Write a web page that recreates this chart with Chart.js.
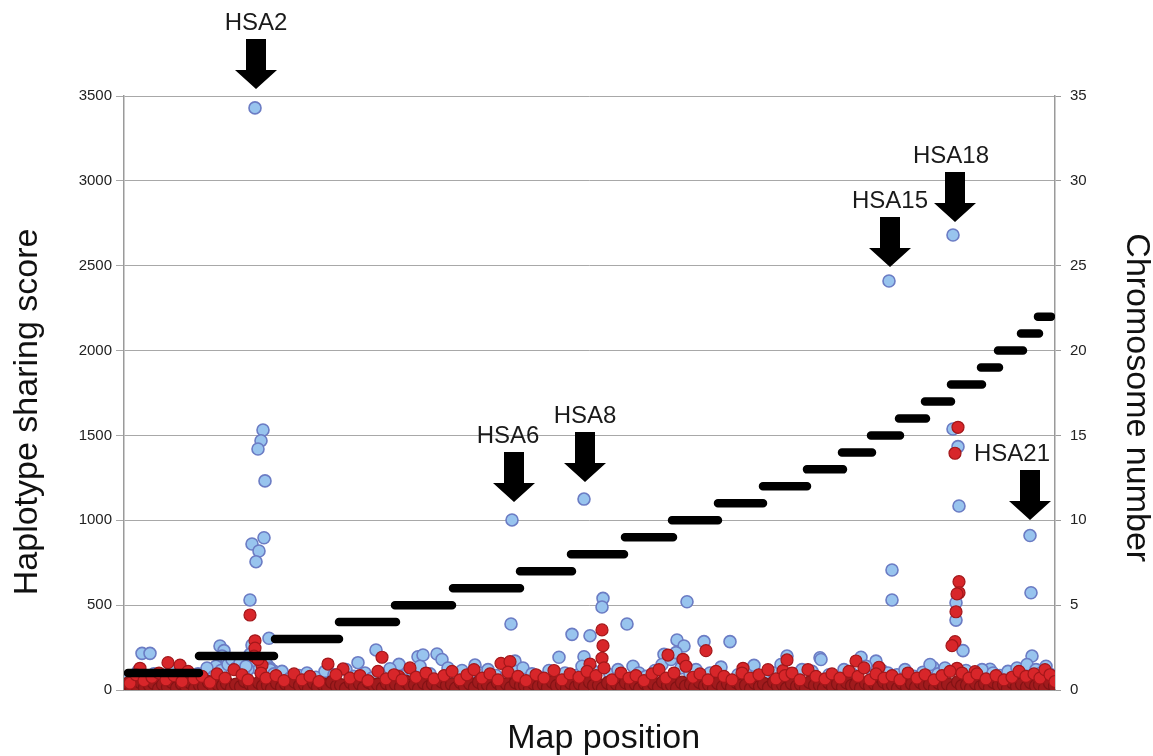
<!DOCTYPE html>
<html>
<head>
<meta charset="utf-8">
<script src="https://cdn.jsdelivr.net/npm/chart.js@4.4.0/dist/chart.umd.min.js"></script>
<style>
  html, body { margin: 0; padding: 0; background: #fff; }
  #wrap { width: 1153px; height: 756px; }
</style>
</head>
<body>
<div id="wrap"><canvas id="scoreChart"></canvas></div>
<script>
// chromosome blocks along the map (x = map position, arbitrary units)
var chrNum   = [1, 2, 3, 4, 5, 6, 7, 8, 9, 10, 11, 12, 13, 14, 15, 16, 17, 18, 19, 20, 21, 22];
var chrStart = [4, 75, 151, 215, 271, 329, 396, 447, 501, 548, 594, 639, 683, 718, 747, 775, 801, 827, 857, 874, 897, 914];
var chrEnd   = [75, 150, 215, 272, 328, 396, 448, 500, 549, 594, 639, 683, 719, 748, 776, 802, 827, 858, 875, 899, 915, 927];

// peaks that are labelled with an arrow
var peakLabels = ["HSA2", "HSA6", "HSA8", "HSA15", "HSA18", "HSA21"];
var peakX      = [132, 390, 461, 766, 831, 906];
var peakScore  = [3541, 1108, 1226, 2493, 2758, 1002];

var leftTicks  = [0, 500, 1000, 1500, 2000, 2500, 3000, 3500];
var rightTicks = [0, 5, 10, 15, 20, 25, 30, 35];

// [map position, haplotype sharing score]
var bluePoints = [
  [131,3430],[139,1532],[137,1469],[134,1420],[141,1232],[140,897],[128,860],[135,819],[132,756],[126,530],
  [145,305],[128,265],[126,210],[388,1002],[387,389],[460,1125],[479,540],[478,489],[448,328],[466,320],
  [503,389],[435,193],[460,196],[563,520],[765,2410],[768,707],[768,530],[829,2681],[829,1538],[834,1434],
  [835,1084],[832,514],[832,412],[839,232],[906,910],[907,573],[18,216],[26,216],[96,259],[100,232],
  [234,161],[252,236],[275,151],[294,196],[351,147],[299,206],[313,212],[606,285],[553,295],[560,259],
  [580,285],[663,200],[737,193],[809,134],[866,122],[908,200],[391,170],[696,190],[752,170],[540,210],
  [140,180],[143,150],[146,130],[150,110],[136,160],[133,130],[127,170],[124,120],[98,200],[103,175],[92,140],
  [3,60],[9,85],[14,110],[22,75],[30,95],[38,70],[47,120],[52,88],[60,105],[66,72],[74,95],[83,130],
  [90,80],[97,115],[104,150],[108,180],[112,130],[116,160],[119,100],[122,140],[146,120],[150,95],
  [158,110],[166,70],[175,85],[183,100],[192,75],[201,110],[210,90],[222,120],[230,80],[241,100],
  [248,70],[259,95],[266,125],[281,85],[288,110],[296,140],[306,95],[318,180],[324,130],[330,90],
  [338,115],[346,75],[356,100],[364,120],[372,85],[381,70],[392,110],[399,130],[408,95],[416,75],
  [425,115],[441,100],[452,85],[458,140],[470,110],[486,90],[494,120],[509,140],[515,100],[522,80],
  [531,115],[538,150],[547,180],[552,220],[557,130],[566,95],[572,120],[586,100],[597,135],[614,90],
  [622,110],[630,145],[641,85],[650,100],[657,150],[670,95],[678,120],[688,110],[697,180],[705,90],
  [712,75],[720,120],[728,95],[742,140],[749,85],[758,115],[764,100],[773,90],[781,120],[790,80],
  [799,105],[806,150],[814,95],[821,130],[842,115],[850,90],[858,120],[869,100],[876,85],[884,110],
  [893,130],[898,95],[903,150],[912,120],[917,100],[922,140],[927,90],[930,70]
];

var redPoints = [
  [126,442],[131,290],[131,247],[138,147],[130,200],[478,354],[479,261],[478,187],[466,153],
  [834,1548],[831,1395],[835,638],[835,573],[833,566],[832,461],[831,285],[828,261],[833,128],
  [16,128],[44,161],[56,147],[204,153],[219,124],[258,193],[275,79],[377,157],[386,167],[544,206],
  [559,181],[582,232],[619,128],[659,114],[663,177],[732,171],[755,134],[851,108],
  [6,40],[12,90],[20,55],[28,75],[35,100],[42,60],[50,85],[58,50],[64,110],[70,65],[78,80],[86,45],
  [93,95],[101,70],[110,120],[118,90],[124,60],[134,180],[137,100],[142,70],[152,85],[160,55],
  [170,95],[178,60],[186,80],[195,50],[212,90],[226,70],[236,85],[244,55],[254,110],[262,65],
  [270,90],[278,60],[286,130],[292,75],[302,100],[310,65],[320,85],[328,110],[336,60],[343,90],
  [350,120],[358,70],[366,95],[374,60],[384,105],[394,80],[402,55],[412,90],[420,70],[430,115],
  [438,60],[446,95],[455,75],[463,110],[472,85],[480,130],[488,60],[497,100],[505,70],[512,85],
  [520,55],[528,95],[535,120],[542,70],[550,100],[562,140],[569,75],[576,95],[584,60],[592,110],
  [600,80],[608,60],[618,100],[626,70],[635,90],[644,120],[652,65],[661,85],[668,100],[676,60],
  [684,120],[692,80],[701,65],[708,95],[716,70],[725,110],[734,80],[740,130],[746,60],[752,95],
  [760,70],[768,85],[776,60],[784,100],[793,70],[801,90],[810,60],[818,85],[826,110],[838,100],
  [845,70],[853,95],[862,65],[872,85],[880,60],[888,75],[895,110],[902,80],[910,95],[916,70],
  [921,120],[926,90],[931,50]
];

// the dense dark band of low scores
var basePoints = [
  [0,22],[4,38],[8,9],[12,31],[17,44],[21,14],[26,27],[30,41],[35,6],[39,33],[44,18],[48,47],
  [53,12],[58,36],[62,24],[67,42],[71,8],[76,29],[80,21],[85,46],[90,13],[94,34],[99,26],[103,39],
  [108,11],[112,32],[117,19],[121,52],[126,37],[130,16],[135,43],[139,23],[144,28],[148,7],[153,41],
  [158,17],[162,36],[167,12],[171,48],[176,26],[181,31],[185,9],[190,42],[194,18],[199,33],[204,14],
  [208,47],[213,22],[217,29],[222,8],[227,44],[231,19],[236,37],[240,13],[245,46],[250,27],[254,32],
  [259,10],[263,39],[268,21],[272,34],[277,16],[282,48],[286,25],[291,31],[295,7],[300,42],[305,18],
  [309,36],[314,12],[318,49],[323,27],[328,33],[332,9],[337,44],[341,20],[346,38],[351,14],[355,47],
  [360,23],[364,30],[369,11],[374,43],[378,19],[383,35],[387,13],[392,45],[397,26],[401,28],[406,8],
  [410,38],[415,21],[420,34],[424,15],[429,46],[433,24],[438,31],[443,10],[447,41],[452,17],[456,37],
  [461,14],[466,47],[470,26],[475,29],[479,9],[484,42],[489,21],[493,35],[498,12],[502,44],[507,23],
  [512,33],[516,8],[521,39],[525,19],[530,36],[535,16],[539,48],[544,27],[548,30],[553,11],[558,43],
  [562,22],[567,34],[571,13],[576,46],[581,24],[585,32],[590,9],[594,41],[599,18],[604,37],[608,15],
  [613,45],[617,26],[622,28],[627,7],[631,42],[636,20],[640,36],[645,14],[650,47],[654,23],[659,31],
  [663,10],[668,39],[673,21],[677,34],[682,12],[686,46],[691,27],[696,29],[700,8],[705,43],[709,19],
  [714,37],[719,16],[723,44],[728,25],[732,32],[737,11],[742,40],[746,22],[751,35],[755,13],[760,48],
  [765,24],[769,30],[774,9],[778,41],[783,18],[788,36],[792,15],[797,45],[801,26],[806,33],[811,10],
  [815,42],[820,21],[824,34],[829,12],[834,47],[838,23],[843,29],[847,8],[852,38],[857,19],[861,37],
  [866,14],[870,46],[875,27],[880,31],[884,11],[889,43],[893,20],[898,35],[903,16],[907,45],[912,24],
  [916,32],[921,9],[926,41],[931,22]
];

function toXY(list) {
  return list.map(function (p) { return { x: p[0], y: p[1] }; });
}

function chromosomeLine() {
  var pts = [];
  for (var i = 0; i < chrNum.length; i++) {
    pts.push({ x: chrStart[i], y: chrNum[i] });
    pts.push({ x: chrEnd[i], y: chrNum[i] });
    pts.push({ x: chrEnd[i], y: null });
  }
  return pts;
}

var FONT = "'Liberation Sans', Arial, Helvetica, sans-serif";

// arrows + labels above the peaks
var peakArrows = {
  id: 'peakArrows',
  afterDatasetsDraw: function (chart) {
    var ctx = chart.ctx;
    var xs = chart.scales.x, ys = chart.scales.y;
    ctx.save();
    for (var i = 0; i < peakLabels.length; i++) {
      var px = xs.getPixelForValue(peakX[i]);
      var tip = ys.getPixelForValue(peakScore[i]);
      var headH = 19, headW = 42, shaftW = 20, shaftH = 31;
      var shaftTop = tip - headH - shaftH;
      ctx.fillStyle = '#000';
      ctx.beginPath();
      ctx.moveTo(px - shaftW / 2, shaftTop);
      ctx.lineTo(px + shaftW / 2, shaftTop);
      ctx.lineTo(px + shaftW / 2, tip - headH);
      ctx.lineTo(px + headW / 2, tip - headH);
      ctx.lineTo(px, tip);
      ctx.lineTo(px - headW / 2, tip - headH);
      ctx.lineTo(px - shaftW / 2, tip - headH);
      ctx.closePath();
      ctx.fill();

      var dx = peakLabels[i] === 'HSA21' ? -18 : (peakLabels[i] === 'HSA6' ? -6 : (peakLabels[i] === 'HSA18' ? -4 : 0));
      ctx.fillStyle = '#1a1a1a';
      ctx.font = '24px ' + FONT;
      ctx.textAlign = 'center';
      ctx.textBaseline = 'middle';
      ctx.fillText(peakLabels[i], px + dx, shaftTop - 16);
    }
    ctx.restore();
  }
};

function plainTick(v) { return String(v); }

var ctx = document.getElementById('scoreChart').getContext('2d');
var chart = new Chart(ctx, {
  type: 'scatter',
  data: {
    datasets: [
      {
        label: 'Chromosome',
        type: 'line',
        data: chromosomeLine(),
        yAxisID: 'y1',
        borderColor: '#000',
        borderWidth: 8.5,
        borderCapStyle: 'round',
        pointRadius: 0,
        showLine: true,
        spanGaps: false,
        order: 0
      },
      {
        label: 'red',
        data: toXY(redPoints),
        yAxisID: 'y',
        backgroundColor: '#d8262a',
        borderColor: '#a3171a',
        borderWidth: 1.2,
        pointRadius: 6,
        clip: 0,
        order: 1
      },
      {
        label: 'base',
        data: toXY(basePoints),
        yAxisID: 'y',
        backgroundColor: '#a01b1d',
        borderColor: '#831315',
        borderWidth: 1.2,
        pointRadius: 6.5,
        clip: 0,
        order: 2
      },
      {
        label: 'blue',
        data: toXY(bluePoints),
        yAxisID: 'y',
        backgroundColor: '#98c4ee',
        borderColor: '#6b7cc4',
        borderWidth: 1.6,
        pointRadius: 6,
        clip: 0,
        order: 3
      }
    ]
  },
  options: {
    responsive: true,
    maintainAspectRatio: false,
    animation: false,
    layout: { padding: { top: 96, left: 0, right: 0, bottom: 0 } },
    plugins: {
      legend: { display: false },
      tooltip: { enabled: false }
    },
    scales: {
      x: {
        type: 'linear',
        min: 0,
        max: 931,
        ticks: { display: false },
        grid: { display: false, drawTicks: false },
        border: { color: '#9a9a9a', width: 1.5 },
        title: {
          display: true,
          text: '   Map position',
          color: '#111',
          font: { family: FONT, size: 34, lineHeight: 1 },
          padding: { top: -3, bottom: 0 }
        },
        afterFit: function (s) { s.height = 66; }
      },
      y: {
        position: 'left',
        min: 0,
        max: 3500,
        afterBuildTicks: function (s) { s.ticks = leftTicks.map(function (v) { return { value: v }; }); },
        ticks: { color: '#222', font: { family: FONT, size: 15 }, padding: 4, callback: plainTick },
        grid: { color: '#a8a8a8', lineWidth: 1, tickLength: 8 },
        border: { color: '#9a9a9a', width: 1.5 },
        title: {
          display: true,
          text: 'Haplotype sharing score    ',
          color: '#111',
          font: { family: FONT, size: 34, lineHeight: 1 },
          padding: { top: 11, bottom: 0 }
        },
        afterFit: function (s) { s.width = 124; }
      },
      y1: {
        position: 'right',
        min: 0,
        max: 35,
        afterBuildTicks: function (s) { s.ticks = rightTicks.map(function (v) { return { value: v }; }); },
        ticks: { color: '#222', font: { family: FONT, size: 15 }, padding: 9, callback: plainTick },
        grid: { drawOnChartArea: false, color: '#9a9a9a', tickLength: 6 },
        border: { color: '#9a9a9a', width: 1.5 },
        title: {
          display: true,
          text: ' Chromosome number',
          color: '#111',
          font: { family: FONT, size: 34, lineHeight: 1 },
          padding: { top: 0, bottom: 0 }
        },
        afterFit: function (s) { s.width = 98; }
      }
    }
  },
  plugins: [peakArrows]
});
</script>
</body>
</html>
